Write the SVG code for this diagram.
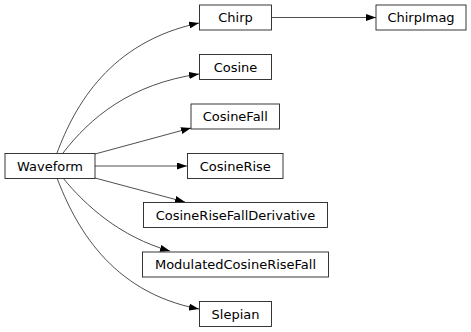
<svg xmlns="http://www.w3.org/2000/svg" width="471" height="332" viewBox="0 0 471 332">
<style>
.box{fill:#fff;stroke:#222;stroke-width:0.9}
.lbl{font-family:"DejaVu Sans",sans-serif;font-size:13px;fill:#000;text-anchor:middle}
.edge{fill:none;stroke:#222;stroke-width:0.8;marker-end:url(#ah)}
</style>
<defs>
<marker id="ah" viewBox="0 0 10 7" refX="10" refY="3.5" markerWidth="10" markerHeight="7" markerUnits="userSpaceOnUse" orient="auto">
<path d="M0,0 L10,3.5 L0,7 Z" fill="#000"/>
</marker>
</defs>
<rect width="471" height="332" fill="#fff"/>
<g id="edges">
<path class="edge" d="M57,153 C75,105 110,42 199,23"/>
<path class="edge" d="M63,153 C90,118 130,84 199,74"/>
<path class="edge" d="M95,154 L191,128"/>
<path class="edge" d="M95,166 L187,166"/>
<path class="edge" d="M95,178 L185,202"/>
<path class="edge" d="M63,178 C85,205 120,237 170,251"/>
<path class="edge" d="M57,178 C75,225 110,292 199,309"/>
<path class="edge" d="M272,17.5 L376,17.5"/>
</g>
<g id="Waveform"><rect class="box" x="5" y="153.5" width="90" height="25"/><text class="lbl" x="50" y="170.7">Waveform</text></g>
<g id="Chirp"><rect class="box" x="199.5" y="5" width="72" height="25"/><text class="lbl" x="235.5" y="22.2">Chirp</text></g>
<g id="ChirpImag"><rect class="box" x="376" y="5" width="90" height="25"/><text class="lbl" x="421" y="22.2">ChirpImag</text></g>
<g id="Cosine"><rect class="box" x="199.5" y="54.5" width="72" height="25"/><text class="lbl" x="235.5" y="71.7">Cosine</text></g>
<g id="CosineFall"><rect class="box" x="191" y="104" width="88.5" height="25"/><text class="lbl" x="235.3" y="121.2">CosineFall</text></g>
<g id="CosineRise"><rect class="box" x="187.5" y="153.5" width="95.5" height="25"/><text class="lbl" x="235.3" y="170.7">CosineRise</text></g>
<g id="CosineRiseFallDerivative"><rect class="box" x="143.5" y="202.5" width="184" height="25"/><text class="lbl" x="235.5" y="219.7">CosineRiseFallDerivative</text></g>
<g id="ModulatedCosineRiseFall"><rect class="box" x="142.5" y="252" width="186" height="25"/><text class="lbl" x="235.5" y="269.2">ModulatedCosineRiseFall</text></g>
<g id="Slepian"><rect class="box" x="199.5" y="301.5" width="72" height="25"/><text class="lbl" x="235.5" y="318.7">Slepian</text></g>
</svg>
